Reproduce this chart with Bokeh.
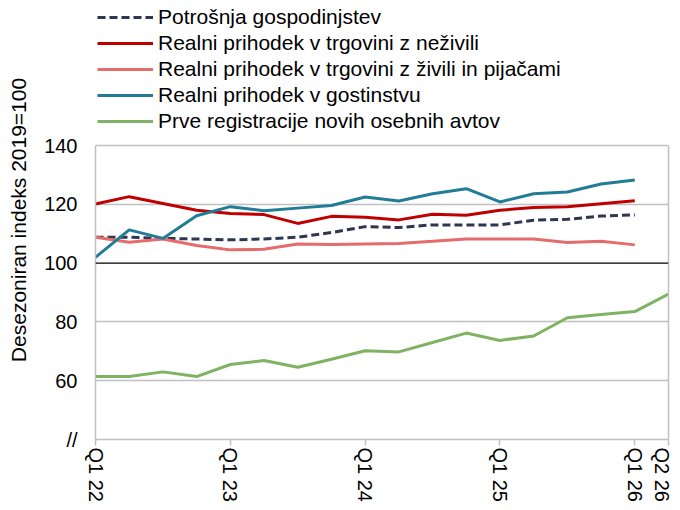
from bokeh.plotting import figure
from bokeh.models import Legend, LegendItem, Span, FixedTicker, Range1d, LinearAxis
from bokeh.embed import file_html
from bokeh.resources import INLINE

quarters = ["Q1 22", "Q2 22", "Q3 22", "Q4 22", "Q1 23", "Q2 23", "Q3 23", "Q4 23",
            "Q1 24", "Q2 24", "Q3 24", "Q4 24", "Q1 25", "Q2 25", "Q3 25", "Q4 25",
            "Q1 26", "Q2 26"]
tick_positions = [0, 4, 8, 12, 16, 17]
y_ticks = [40, 60, 80, 100, 120, 140]

potrosnja = [108.8, 108.8, 108.4, 108.2, 107.9, 108.2, 108.8, 110.4, 112.4, 112.1,
             113.0, 113.0, 113.0, 114.6, 114.9, 116.0, 116.4]
nezivili = [120.1, 122.6, 120.3, 118.0, 116.9, 116.5, 113.5, 115.9, 115.6, 114.7,
            116.6, 116.3, 118.0, 118.9, 119.2, 120.2, 121.2]
zivili = [108.8, 107.1, 108.2, 106.0, 104.5, 104.7, 106.5, 106.3, 106.5, 106.7,
          107.4, 108.2, 108.2, 108.2, 107.0, 107.4, 106.2]
gostinstvo = [102.0, 111.3, 108.4, 116.1, 119.2, 117.8, 118.7, 119.6, 122.5, 121.1,
              123.6, 125.3, 120.8, 123.6, 124.2, 126.9, 128.3]
registracije = [61.4, 61.4, 63.0, 61.4, 65.5, 66.9, 64.6, 67.3, 70.2, 69.8, 73.0,
                76.2, 73.7, 75.2, 81.4, 82.5, 83.5, 89.5]

names = ["Potrošnja gospodinjstev",
         "Realni prihodek v trgovini z neživili",
         "Realni prihodek v trgovini z živili in pijačami",
         "Realni prihodek v gostinstvu",
         "Prve registracije novih osebnih avtov"]

FONT = "Liberation Sans"
GRID = "#C0C0C0"

# frame spans canvas y 0..439; value 140 sits at y=145, value 40 at y=439
Y_TOP = 140 + 145 / 2.94

p = figure(width=672, height=505, output_backend="svg", toolbar_location=None,
           x_range=Range1d(0, 17), y_range=Range1d(40, Y_TOP),
           min_border_left=95, min_border_right=4, min_border_top=0,
           min_border_bottom=66)
p.background_fill_color = "white"
p.border_fill_color = "white"
p.outline_line_color = None

p.xgrid.grid_line_color = None
p.ygrid.grid_line_color = GRID
p.ygrid.grid_line_width = 1.5
p.ygrid.ticker = FixedTicker(ticks=[40, 60, 80, 120, 140])

p.yaxis.ticker = FixedTicker(ticks=y_ticks)
p.yaxis.bounds = (40, 140)
p.yaxis.major_label_overrides = {40: "//"}
p.yaxis.axis_line_color = GRID
p.yaxis.axis_line_width = 1.5
p.yaxis.major_tick_line_color = None
p.yaxis.minor_tick_line_color = None
p.yaxis.major_label_standoff = 12
p.yaxis.major_label_text_font = FONT
p.yaxis.major_label_text_font_size = "20px"
p.yaxis.major_label_text_color = "black"
p.yaxis.axis_label = "Desezoniran indeks 2019=100"
p.yaxis.axis_label_text_font = FONT
p.yaxis.axis_label_text_font_size = "21px"
p.yaxis.axis_label_text_font_style = "normal"
p.yaxis.axis_label_text_color = "black"
p.yaxis.axis_label_standoff = 11

right = LinearAxis(ticker=FixedTicker(ticks=[]), bounds=(40, 140),
                   axis_line_color=GRID, axis_line_width=1.5,
                   major_tick_line_color=None, minor_tick_line_color=None)
p.add_layout(right, "right")

p.xaxis.ticker = FixedTicker(ticks=tick_positions)
p.xaxis.major_label_overrides = {i: quarters[i] for i in tick_positions}
p.xaxis.major_label_orientation = "vertical"
p.xaxis.axis_line_color = GRID
p.xaxis.axis_line_width = 1.5
p.xaxis.major_tick_line_color = GRID
p.xaxis.major_tick_line_width = 1.5
p.xaxis.major_tick_in = 0
p.xaxis.major_tick_out = 6
p.xaxis.minor_tick_line_color = None
p.xaxis.major_label_standoff = 2
p.xaxis.major_label_text_font = FONT
p.xaxis.major_label_text_font_size = "20px"
p.xaxis.major_label_text_color = "black"

p.add_layout(Span(location=100, dimension="width", line_color="black", line_width=1.2))

xs17 = list(range(len(potrosnja)))
xs18 = list(range(len(registracije)))

r1 = p.line(xs17, potrosnja, line_color="#2E3652", line_width=3, line_dash="8 4")
r2 = p.line(xs17, nezivili, line_color="#C00000", line_width=3)
r3 = p.line(xs17, zivili, line_color="#E46C6C", line_width=3)
r4 = p.line(xs17, gostinstvo, line_color="#217C96", line_width=3)
r5 = p.line(xs18, registracije, line_color="#7FB363", line_width=3)

legend = Legend(items=[LegendItem(label=n, renderers=[r]) for n, r in
                       zip(names, [r1, r2, r3, r4, r5])],
                location=(2, 306), orientation="vertical",
                glyph_width=56, glyph_height=20, label_height=20, spacing=2,
                label_standoff=5, padding=0, margin=0,
                label_text_font=FONT, label_text_font_size="21px",
                label_text_color="black",
                background_fill_alpha=0, border_line_color=None)
p.add_layout(legend, "center")

open("out.html", "w").write(file_html(p, INLINE))
